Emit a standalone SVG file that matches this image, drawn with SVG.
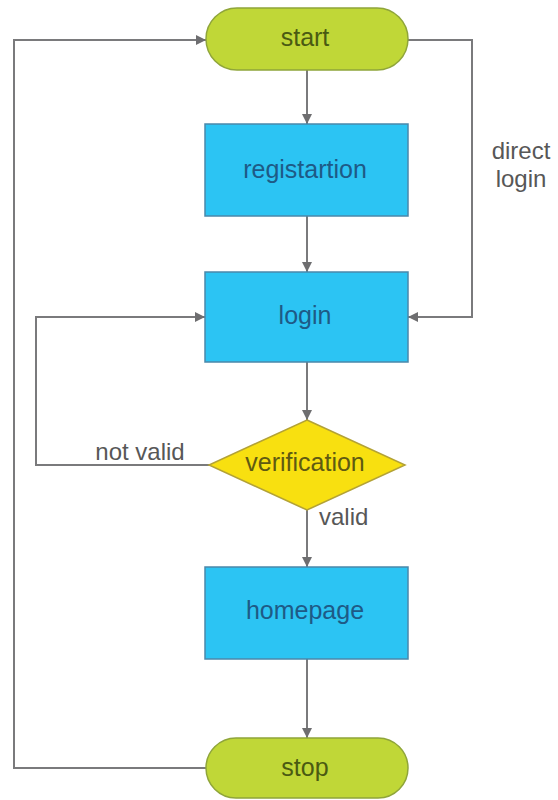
<svg xmlns="http://www.w3.org/2000/svg" width="558" height="800" viewBox="0 0 558 800">
<defs>
<marker id="arr" viewBox="0 0 10 10" refX="10" refY="5" markerWidth="10" markerHeight="10" markerUnits="userSpaceOnUse" orient="auto">
<path d="M0,0 L10,5 L0,10 z" fill="#6e6e70"/>
</marker>
<style>
.pill{fill:#c0d737;stroke:#8fa53a;stroke-width:1.5}
.box{fill:#2cc4f3;stroke:#4a88ab;stroke-width:1.5}
.dia{fill:#f8e010;stroke:#b3a236;stroke-width:1.5}
.t{font-family:"Liberation Sans",Arial,sans-serif;font-size:25px;text-anchor:middle}
.tp{fill:#4a5a12}
.tb{fill:#1e5a86}
.td{fill:#5f5a12}
.lbl{font-family:"Liberation Sans",Arial,sans-serif;font-size:24px;fill:#575757}
.c{fill:none;stroke:#7a7a7c;stroke-width:2}
</style>
</defs>
<rect width="558" height="800" fill="#ffffff"/>
<g id="connectors">
<path class="c" d="M307,70 V124" marker-end="url(#arr)"/>
<path class="c" d="M307,216 V272" marker-end="url(#arr)"/>
<path class="c" d="M307,362 V420" marker-end="url(#arr)"/>
<path class="c" d="M307,510 V567" marker-end="url(#arr)"/>
<path class="c" d="M307,659 V738" marker-end="url(#arr)"/>
<path class="c" d="M408,40 H472 V317 H408" marker-end="url(#arr)"/>
<path class="c" d="M209,465 H36 V317 H205" marker-end="url(#arr)"/>
<path class="c" d="M206,768 H14 V40 H206" marker-end="url(#arr)"/>
<text class="lbl" x="521" y="159" text-anchor="middle">direct</text>
<text class="lbl" x="521" y="187" text-anchor="middle">login</text>
<text class="lbl" x="140" y="460" text-anchor="middle">not valid</text>
<text class="lbl" x="319" y="525">valid</text>
</g>
<g id="start">
<rect class="pill" x="206" y="8" width="202" height="62" rx="31"/>
<text class="t tp" x="305" y="46">start</text>
</g>
<g id="registration">
<rect class="box" x="205" y="124" width="203" height="92"/>
<text class="t tb" x="305" y="178">registartion</text>
</g>
<g id="login">
<rect class="box" x="205" y="272" width="203" height="90"/>
<text class="t tb" x="305" y="324">login</text>
</g>
<g id="verification">
<polygon class="dia" points="307,420 405,465 307,510 209,465"/>
<text class="t td" x="305" y="471">verification</text>
</g>
<g id="homepage">
<rect class="box" x="205" y="567" width="203" height="92"/>
<text class="t tb" x="305" y="619">homepage</text>
</g>
<g id="stop">
<rect class="pill" x="206" y="738" width="202" height="60" rx="30"/>
<text class="t tp" x="305" y="776">stop</text>
</g>
</svg>
